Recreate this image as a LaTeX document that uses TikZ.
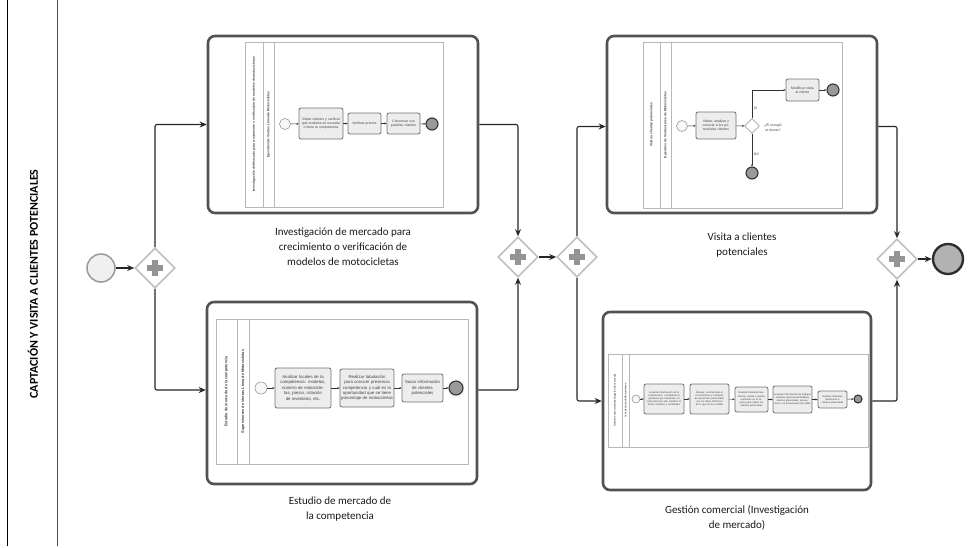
\documentclass[tikz,border=0pt]{standalone}
\usepackage{fontspec}
\setmainfont{Carlito}
\newfontfamily\smallsans{Liberation Sans}
\usetikzlibrary{arrows.meta,shapes.geometric}

\tikzset{
  flow/.style={draw=black!85, line width=1.1pt, -{Stealth[length=7pt,width=6pt]}, rounded corners=2pt},
  subproc/.style={draw=black!68, line width=2.6pt, rounded corners=7pt, fill=white},
  pargw/.style={diamond, draw=black!25, line width=1.6pt, fill=white, minimum width=40pt, minimum height=40pt, inner sep=0pt,
    path picture={
      \fill[black!42] ([xshift=-8pt,yshift=-2.6pt]path picture bounding box.center) rectangle ([xshift=8pt,yshift=2.6pt]path picture bounding box.center);
      \fill[black!42] ([xshift=-2.6pt,yshift=-8pt]path picture bounding box.center) rectangle ([xshift=2.6pt,yshift=8pt]path picture bounding box.center);
    }},
  startev/.style={circle, draw=black!40, line width=1.5pt, fill=black!6, minimum size=28pt, inner sep=0pt},
  endev/.style={circle, draw=black!82, line width=2.4pt, fill=black!30, minimum size=30pt, inner sep=0pt},
  caption/.style={align=center, font=\fontsize{11}{15}\selectfont, text=black!90},
  % small drawing inside each sub-process
  pool/.style={draw=black!28, line width=0.6pt, fill=white},
  lanetxt/.style={rotate=90, font=\smallsans\bfseries\fontsize{3.3}{4}\selectfont, text=black!75},
  task/.style={draw=black!55, line width=0.8pt, fill=black!7, rounded corners=2pt, align=center, inner sep=0.5pt, text=black!75},
  istart/.style={circle, draw=black!40, line width=0.6pt, fill=black!3, inner sep=0pt},
  iend/.style={circle, draw=black!80, line width=1.1pt, fill=black!40, inner sep=0pt},
  iflow/.style={draw=black!80, line width=0.45pt, -{Stealth[length=2.2pt,width=2pt]}},
  igw/.style={diamond, draw=black!35, line width=0.6pt, fill=white, minimum width=15pt, minimum height=15pt, inner sep=0pt},
}

\begin{document}
\begin{tikzpicture}[x=1pt,y=-1pt]
\useasboundingbox (0,0) rectangle (971,547);

% outer lane
\draw[black, line width=1pt] (7.5,0) -- (7.5,546);
\draw[black!70, line width=1pt] (57,0) -- (57,546);
\node[rotate=90, font=\bfseries\fontsize{12}{14}\selectfont] (lanename) at (33,284) {CAPTACIÓN Y VISITA A CLIENTES POTENCIALES};

% events and gateways of the main flow
\node[startev] (start) at (101,268) {};
\node[pargw] (g1) at (155,268) {};
\node[pargw] (g2) at (518,257) {};
\node[pargw] (g3) at (577,257) {};
\node[pargw] (g4) at (897,259) {};
\node[endev] (finish) at (948,259) {};

% sub-processes
\node[subproc, minimum width=270pt, minimum height=177pt] (tl) at (343,124.5) {};
\node[subproc, minimum width=270pt, minimum height=182pt] (bl) at (342,393) {};
\node[subproc, minimum width=270pt, minimum height=177pt] (tr) at (742,124.5) {};
\node[subproc, minimum width=268pt, minimum height=178pt] (br) at (737,401) {};

% captions
\node[caption] (tlcap) at (343,247) {Investigación de mercado para\\crecimiento o verificación de\\modelos de motocicletas};
\node[caption] (blcap) at (340,509) {Estudio de mercado de\\la competencia};
\node[caption] (trcap) at (742,245) {Visita a clientes\\potenciales};
\node[caption] (brcap) at (737,518) {Gestión comercial (Investigación\\de mercado)};

% main connectors
\draw[flow] (start) -- (g1);
\draw[flow] (g1.north) |- (tl.west);
\draw[flow] (g1.south) |- ([yshift=3pt]bl.west);
\draw[flow] (tl.east) -| (g2.north);
\draw[flow] ([yshift=3pt]bl.east) -| (g2.south);
\draw[flow] (g2) -- (g3);
\draw[flow] (g3.north) |- ([yshift=-2pt]tr.west);
\draw[flow] (g3.south) |- (br.west);
\draw[flow] ([yshift=-2pt]tr.east) -| (g4.north);
\draw[flow] (br.east) -| (g4.south);
\draw[flow] (g4) -- (finish);

% ---- inside: market research for growth ----
\draw[pool] (245,42) rectangle (443,207);
\draw[black!28, line width=0.6pt] (263,42) -- (263,207) (274,42) -- (274,207);
\node[lanetxt] (tlp) at (254,124.5) {Investigación de Mercado para crecimiento o verificación de modelos de motocicletas};
\node[lanetxt] (tll) at (268.5,124.5) {Ejecutivo de Ventas Línea de Motocicletas};
\begin{scope}[font=\smallsans\fontsize{3.4}{4.1}\selectfont]
\node[istart, minimum size=11pt] (a0) at (285,124) {};
\node[task, minimum width=44pt, minimum height=31pt, text width=40pt] (a1) at (321,123.5) {Visitar clientes y verificar qué modelos se necesita o tiene la competencia};
\node[task, minimum width=33pt, minimum height=21pt, text width=29pt] (a2) at (364.5,123.5) {Verificar precios};
\node[task, minimum width=33pt, minimum height=21pt, text width=29pt] (a3) at (403.5,123.5) {Conversar con posibles clientes};
\node[iend, minimum size=12pt] (a4) at (432,124) {};
\end{scope}
\draw[iflow] (a0) -- (a1);
\draw[iflow] (a1) -- (a2);
\draw[iflow] (a2) -- (a3);
\draw[iflow] (a3) -- (a4);

% ---- inside: competitor study ----
\draw[pool] (216,319) rectangle (468,464);
\draw[black!28, line width=0.6pt] (237,319) -- (237,464) (249,319) -- (249,464);
\node[lanetxt, font=\smallsans\bfseries\fontsize{3.8}{4.5}\selectfont] (blp) at (226.5,391.5) {Estudio de mercado de la competencia};
\node[lanetxt, font=\smallsans\bfseries\fontsize{3.8}{4.5}\selectfont] (bll) at (243,391.5) {Supervisores de Ventas Línea de Motocicletas};
\begin{scope}[font=\smallsans\fontsize{4.3}{5.4}\selectfont]
\node[istart, minimum size=12pt] (b0) at (261,388) {};
\node[task, minimum width=56pt, minimum height=40pt, text width=53pt] (b1) at (303,388) {Analizar locales de la competencia: modelos, número de motocicletas, precio, rotación de inventario, etc.};
\node[task, minimum width=54pt, minimum height=38pt, text width=52pt] (b2) at (367,388) {Realizar tabulación para conocer presencia competencia y cuál es la oportunidad que se tiene porcentaje de motocicletas};
\node[task, minimum width=41pt, minimum height=28pt, text width=37pt] (b3) at (422.5,388) {Sacar información de clientes potenciales};
\node[iend, minimum size=14pt] (b4) at (456,388) {};
\end{scope}
\draw[iflow] (b0) -- (b1);
\draw[iflow] (b1) -- (b2);
\draw[iflow] (b2) -- (b3);
\draw[iflow] (b3) -- (b4);

% ---- inside: visits to potential clients ----
\draw[pool] (643,42) rectangle (842,208);
\draw[black!28, line width=0.6pt] (660,42) -- (660,208) (671,42) -- (671,208);
\node[lanetxt] (trp) at (651.5,125) {Visita a clientes potenciales};
\node[lanetxt] (trl) at (665.5,125) {Ejecutivo de Ventas Línea de Motocicletas};
\begin{scope}[font=\smallsans\fontsize{3.4}{4.1}\selectfont]
\node[istart, minimum size=11pt] (c0) at (682,126) {};
\node[task, minimum width=40pt, minimum height=27pt, text width=37pt] (c1) at (716,125.5) {Visitar, analizar y conocer a los potenciales clientes};
\node[igw] (c2) at (752,126) {};
\node[align=center, text=black!75, inner sep=0pt] (c2q) at (773,127.5) {¿Él escogió\\al cliente?};
\node[task, minimum width=33pt, minimum height=22pt, text width=30pt] (c3) at (802.5,90) {Modificar visita al cliente};
\node[iend, minimum size=12pt] (c4) at (833,90) {};
\node[iend, minimum size=12pt] (c5) at (752,173) {};
\node[text=black!75, inner sep=0pt] (csi) at (755.5,108) {SI};
\node[text=black!75, inner sep=0pt] (cno) at (756.5,154) {NO};
\end{scope}
\draw[iflow] (c0) -- (c1);
\draw[iflow] (c1) -- (c2);
\draw[iflow] (c2.north) |- (c3.west);
\draw[iflow] (c3) -- (c4);
\draw[iflow] (c2.south) -- (c5);

% ---- inside: commercial management ----
\draw[pool] (608,354) rectangle (868,447);
\draw[black!28, line width=0.6pt] (622,354) -- (622,447) (629,354) -- (629,447);
\node[lanetxt, font=\smallsans\bfseries\fontsize{2.4}{3}\selectfont] (brp) at (615,400.5) {Gestión comercial (Investigación de mercado)};
\node[lanetxt, font=\smallsans\bfseries\fontsize{2.4}{3}\selectfont] (brl) at (625.5,400.5) {Jefe de Línea de Motocicletas};
\begin{scope}[font=\smallsans\fontsize{2.5}{3.1}\selectfont]
\node[istart, minimum size=8pt] (d0) at (636,399) {};
\node[task, minimum width=40pt, minimum height=30pt, text width=38pt] (d1) at (664,399) {Levantar información de la competencia: contabilizar la ganancia que mantienen en cada local por año, también la fecha, modelos y cantidades};
\node[task, minimum width=39pt, minimum height=30pt, text width=37pt] (d2) at (709.5,399) {Revisar, contrarrestar el conocimiento y compartir del pronóstico presentado con los datos históricos de lo que se ha vendido};
\node[task, minimum width=33pt, minimum height=25pt, text width=31pt] (d3) at (751.5,399.5) {Realizar llamadas telefónicas, puerta a puerta, reuniones en el negocio para captar los clientes potenciales};
\node[task, minimum width=39pt, minimum height=27pt, text width=37pt] (d4) at (792.5,399.5) {Levantar información de trabajos similares (precios/cantidades), clientes potenciales, proveedores, en presupuesto por tabla};
\node[task, minimum width=29pt, minimum height=17pt, text width=27pt] (d5) at (832.5,399.5) {Realizar llamadas telefónicas a clientes potenciales};
\node[iend, minimum size=8pt] (d6) at (858,399) {};
\end{scope}
\draw[iflow] (d0) -- (d1);
\draw[iflow] (d1) -- (d2);
\draw[iflow] (d2) -- (d3);
\draw[iflow] (d3) -- (d4);
\draw[iflow] (d4) -- (d5);
\draw[iflow] (d5) -- (d6);

\end{tikzpicture}
\end{document}
